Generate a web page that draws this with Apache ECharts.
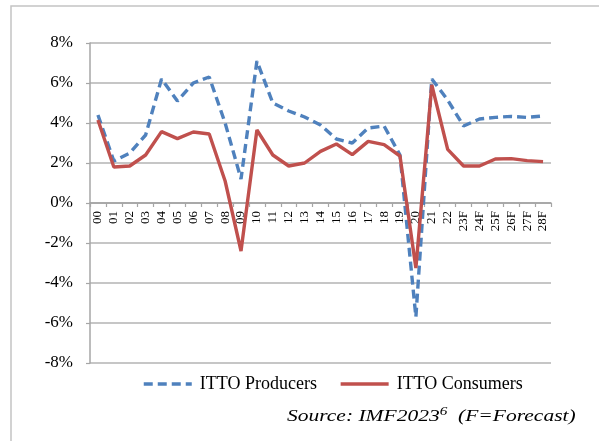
<!DOCTYPE html>
<html>
<head>
<meta charset="utf-8">
<script src="https://cdn.jsdelivr.net/npm/echarts@6/dist/echarts.min.js"></script>
<style>html,body{margin:0;padding:0;background:#fff}#c{width:599px;height:441px}</style>
</head>
<body>
<div id="c"></div>
<script>
const categories = ['00','01','02','03','04','05','06','07','08','09','10','11','12','13','14','15','16','17','18','19','20','21','22','23F','24F','25F','26F','27F','28F'];
const producers = [4.4,2.1,2.5,3.4,6.2,5.1,6.0,6.3,4.0,1.2,7.1,5.0,4.6,4.3,3.9,3.2,3.0,3.75,3.85,2.4,-5.7,6.2,5.15,3.85,4.2,4.28,4.33,4.28,4.35];
const consumers = [4.15,1.8,1.85,2.4,3.57,3.22,3.55,3.45,1.1,-2.4,3.65,2.4,1.85,2.0,2.58,2.95,2.42,3.08,2.92,2.35,-3.25,5.9,2.68,1.85,1.85,2.2,2.22,2.12,2.07];
const yTicks = {min:-8, max:8, interval:2};

const serif = '"Liberation Serif","DejaVu Serif",serif';
const chart = echarts.init(document.getElementById('c'));
chart.setOption({
  animation:false,
  backgroundColor:'#fff',
  grid:{left:90,right:48,top:43,bottom:78,containLabel:false},
  xAxis:{
    type:'category', data:categories, boundaryGap:true, position:'bottom', offset:-160,
    axisLine:{onZero:false,lineStyle:{color:'#a0a0a0',width:1.5}},
    axisTick:{show:true,interval:0,length:4,inside:false,lineStyle:{color:'#a6a6a6',width:1.2}},
    axisLabel:{interval:0,rotate:90,fontFamily:serif,fontSize:13,color:'#000',margin:8},
    splitLine:{show:false}
  },
  yAxis:{
    type:'value', min:yTicks.min, max:yTicks.max, interval:yTicks.interval,
    axisLine:{show:true,lineStyle:{color:'#a6a6a6',width:1.5}},
    axisTick:{show:true,length:4,lineStyle:{color:'#a6a6a6',width:1.2}},
    axisLabel:{formatter:'{value}%',fontFamily:serif,fontSize:17,color:'#000',margin:17},
    splitLine:{show:true,lineStyle:{color:'#b3b3b3',width:1.5}}
  },
  legend:{
    left:137, top:370, itemWidth:48, itemHeight:16, itemGap:22,
    itemStyle:{opacity:0},
    lineStyle:{width:3.5},
    textStyle:{fontFamily:serif,fontSize:18,color:'#000',padding:[0,0,0,3]},
    data:['ITTO Producers','ITTO Consumers']
  },
  series:[
    {name:'ITTO Producers',type:'line',data:producers,symbol:'none',
     lineStyle:{color:'#4f81bd',width:3.4,type:[9,5]},itemStyle:{color:'#4f81bd'},z:2},
    {name:'ITTO Consumers',type:'line',data:consumers,symbol:'none',
     lineStyle:{color:'#c0504d',width:3.4},itemStyle:{color:'#c0504d'},z:3}
  ],
  graphic:[
    {type:'rect',shape:{x:11,y:6,width:700,height:600},style:{fill:'none',stroke:'#c4c4c4',lineWidth:1.5},silent:true},
    {type:'text',x:287,y:417,scaleX:1.265,
     style:{align:'left',verticalAlign:'middle',
       rich:{a:{fontFamily:serif,fontSize:17,fontStyle:'italic',fill:'#000'},
             s:{fontFamily:serif,fontSize:12,fontStyle:'italic',fill:'#000',verticalAlign:'top',padding:[0,0,10,0]}},
       text:'{a|Source: IMF2023}{s|6}{a|  (F=Forecast)}'}}
  ]
});
</script>
</body>
</html>
